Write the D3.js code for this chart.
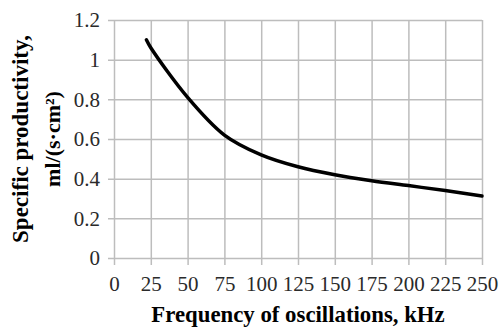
<!DOCTYPE html>
<html>
<head>
<meta charset="utf-8">
<script src="https://cdnjs.cloudflare.com/ajax/libs/d3/7.8.5/d3.min.js"></script>
<style>
  body { margin: 0; background: #fff; }
  svg { display: block; font-family: "Liberation Serif", "Times New Roman", serif; }
</style>
</head>
<body>
<div id="chart"></div>
<script>
// frequency (kHz) and specific productivity
const freq = [22, 25, 50, 75, 100, 125, 150, 175, 200, 225, 250];
const productivity = [1.1, 1.06, 0.81, 0.62, 0.52, 0.46, 0.42, 0.39, 0.365, 0.34, 0.313];
const xTicks = [0, 25, 50, 75, 100, 125, 150, 175, 200, 225, 250];
const yTicks = [0, 0.2, 0.4, 0.6, 0.8, 1, 1.2];
const xTitle = "Frequency of oscillations, kHz";
const yTitle1 = "Specific productivity,";
const yTitle2 = "ml/(s·cm²)";

const W = 500, H = 331;
const plotLeft = 114, plotRight = 482, plotTop = 20, plotBottom = 258;
const gridColor = "#bdbdbd";
const labelColor = "#2a2a2a";

const svg = d3.select("#chart").append("svg")
  .attr("width", W)
  .attr("height", H);

const x = d3.scaleLinear().domain([0, 250]).range([plotLeft, plotRight]);
const y = d3.scaleLinear().domain([0, 1.2]).range([plotBottom, plotTop]);

// horizontal grid + y labels
const yAxis = svg.append("g")
  .attr("transform", "translate(" + plotLeft + ",0)")
  .call(d3.axisLeft(y).tickValues(yTicks).tickFormat(d => String(+d.toFixed(1))));
yAxis.select(".domain").remove();
yAxis.selectAll(".tick line")
  .attr("x1", -6)
  .attr("x2", plotRight - plotLeft)
  .attr("stroke", gridColor)
  .attr("stroke-width", 1.5);
yAxis.selectAll(".tick text")
  .attr("x", -14)
  .attr("fill", labelColor)
  .style("font-size", "21px")
  .style("font-family", "Liberation Serif");

// vertical grid + x labels
const xAxis = svg.append("g")
  .attr("transform", "translate(0," + plotBottom + ")")
  .call(d3.axisBottom(x).tickValues(xTicks));
xAxis.select(".domain").remove();
xAxis.selectAll(".tick line")
  .attr("y1", plotTop - plotBottom)
  .attr("y2", 7)
  .attr("stroke", gridColor)
  .attr("stroke-width", 1.5);
xAxis.selectAll(".tick text")
  .attr("y", 33)
  .attr("dy", null)
  .attr("fill", labelColor)
  .style("font-size", "21px")
  .style("font-family", "Liberation Serif");

// the curve
const line = d3.line()
  .x((d, i) => x(freq[i]))
  .y(d => y(d))
  .curve(d3.curveCatmullRom.alpha(0.5));

svg.append("path")
  .datum(productivity)
  .attr("d", line)
  .attr("fill", "none")
  .attr("stroke", "#000")
  .attr("stroke-width", 3.5)
  .attr("stroke-linecap", "round");

// axis titles
svg.append("text")
  .attr("x", 298)
  .attr("y", 322)
  .attr("text-anchor", "middle")
  .attr("font-weight", "bold")
  .style("font-size", "22.8px")
  .text(xTitle);

const cy = 139;
svg.append("text")
  .attr("transform", "translate(28," + cy + ") rotate(-90)")
  .attr("text-anchor", "middle")
  .attr("font-weight", "bold")
  .style("font-size", "23px")
  .text(yTitle1);

svg.append("text")
  .attr("transform", "translate(60," + cy + ") rotate(-90)")
  .attr("text-anchor", "middle")
  .attr("font-weight", "bold")
  .style("font-size", "22px")
  .text(yTitle2);
</script>
</body>
</html>
